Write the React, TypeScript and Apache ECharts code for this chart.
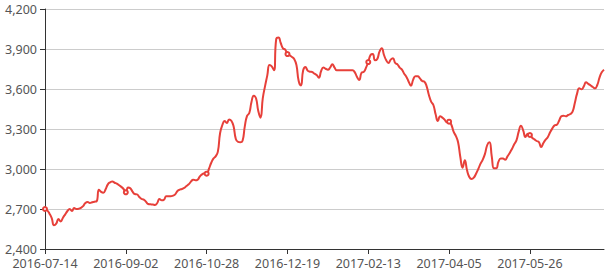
import React, { useEffect, useRef } from "react";
import * as echarts from "echarts";

// Trading calendar: weekdays from the first date, minus market holidays
const startDate = "2016-07-14";
const pointCount = 250;
const holidays = [
  "2016-10-03", "2016-10-04", "2016-10-05", "2016-10-06",
  "2017-01-27", "2017-01-30", "2017-01-31", "2017-02-01",
  "2017-04-04", "2017-05-01",
];

function buildDates(): string[] {
  const out: string[] = [];
  const [y, m, d] = startDate.split("-").map(Number);
  const t = new Date(Date.UTC(y, m - 1, d));
  while (out.length < pointCount) {
    const wd = t.getUTCDay();
    const s = t.toISOString().slice(0, 10);
    if (wd !== 0 && wd !== 6 && holidays.indexOf(s) < 0) out.push(s);
    t.setUTCDate(t.getUTCDate() + 1);
  }
  return out;
}

const categories = buildDates();

const prices = [
  2700, 2690, 2665, 2632, 2578, 2590, 2625, 2607, 2635, 2660,
  2685, 2700, 2685, 2707, 2700, 2702, 2708, 2722, 2745, 2752,
  2745, 2750, 2755, 2758, 2845, 2828, 2822, 2848, 2885, 2900,
  2907, 2897, 2890, 2878, 2866, 2850, 2825, 2862, 2856, 2830,
  2812, 2810, 2790, 2775, 2770, 2755, 2737, 2735, 2733, 2730,
  2745, 2775, 2765, 2770, 2795, 2795, 2795, 2800, 2810, 2835,
  2845, 2850, 2858, 2872, 2885, 2905, 2920, 2915, 2920, 2945,
  2960, 2968, 2965, 3000, 3045, 3078, 3095, 3130, 3270, 3330,
  3360, 3345, 3372, 3362, 3320, 3225, 3203, 3200, 3212, 3320,
  3398, 3420, 3505, 3550, 3530, 3435, 3385, 3530, 3620, 3700,
  3780, 3770, 3740, 3975, 3987, 3945, 3905, 3895, 3862, 3852,
  3840, 3825, 3780, 3660, 3627, 3740, 3765, 3738, 3730, 3728,
  3715, 3705, 3685, 3735, 3762, 3752, 3745, 3760, 3785, 3760,
  3740, 3740, 3740, 3740, 3740, 3740, 3740, 3740, 3725, 3690,
  3668, 3722, 3728, 3760, 3802, 3855, 3862, 3815, 3825, 3880,
  3905, 3855, 3815, 3795, 3820, 3830, 3795, 3785, 3760, 3745,
  3715, 3690, 3655, 3625, 3670, 3695, 3695, 3680, 3660, 3655,
  3620, 3555, 3505, 3480, 3410, 3360, 3395, 3385, 3370, 3350,
  3355, 3332, 3280, 3248, 3200, 3090, 3010, 3065, 2990, 2940,
  2925, 2935, 2965, 3000, 3040, 3070, 3115, 3180, 3200, 3095,
  3005, 3005, 3055, 3078, 3078, 3070, 3095, 3120, 3150, 3185,
  3215, 3280, 3325, 3290, 3240, 3265, 3255, 3235, 3222, 3210,
  3202, 3165, 3195, 3220, 3240, 3275, 3305, 3327, 3332, 3362,
  3395, 3400, 3395, 3405, 3412, 3430, 3495, 3565, 3605, 3598,
  3620, 3650, 3638, 3627, 3615, 3605, 3630, 3685, 3725, 3745,
];

const yMin = 2400;
const yMax = 4200;
const yStep = 300;

export default function App() {
  const ref = useRef<HTMLDivElement>(null);
  useEffect(() => {
    if (!ref.current) return;
    const chart = echarts.init(ref.current, undefined, { renderer: "svg" });
    const font = "'Noto Sans', sans-serif";
    chart.setOption({
      animation: false,
      grid: { left: 45, right: 7, top: 9, bottom: 24 },
      xAxis: {
        type: "category",
        boundaryGap: false,
        data: categories,
        axisLine: { show: true, lineStyle: { color: "#333" } },
        axisTick: { show: true, interval: 35, lineStyle: { color: "#333" } },
        axisLabel: { interval: 35, color: "#555", fontSize: 12.5, fontFamily: font },
        splitLine: { show: false },
      },
      yAxis: {
        type: "value",
        min: yMin,
        max: yMax,
        interval: yStep,
        axisLine: { show: true, lineStyle: { color: "#333" } },
        axisTick: { show: true, lineStyle: { color: "#333" } },
        axisLabel: {
          color: "#555",
          fontSize: 12.5,
          fontFamily: font,
          formatter: (v: number) => v.toLocaleString("en-US"),
        },
        splitLine: { show: true, lineStyle: { color: "#ccc" } },
      },
      series: [
        {
          type: "line",
          data: prices,
          smooth: true,
          symbol: "emptyCircle",
          symbolSize: 4,
          lineStyle: { color: "#e7403a", width: 2 },
          itemStyle: { color: "#e7403a" },
        },
      ],
    });
    return () => chart.dispose();
  }, []);
  return (
    <div
      ref={ref}
      style={{ position: "absolute", left: 0, top: 0, width: 611, height: 273 }}
    />
  );
}
